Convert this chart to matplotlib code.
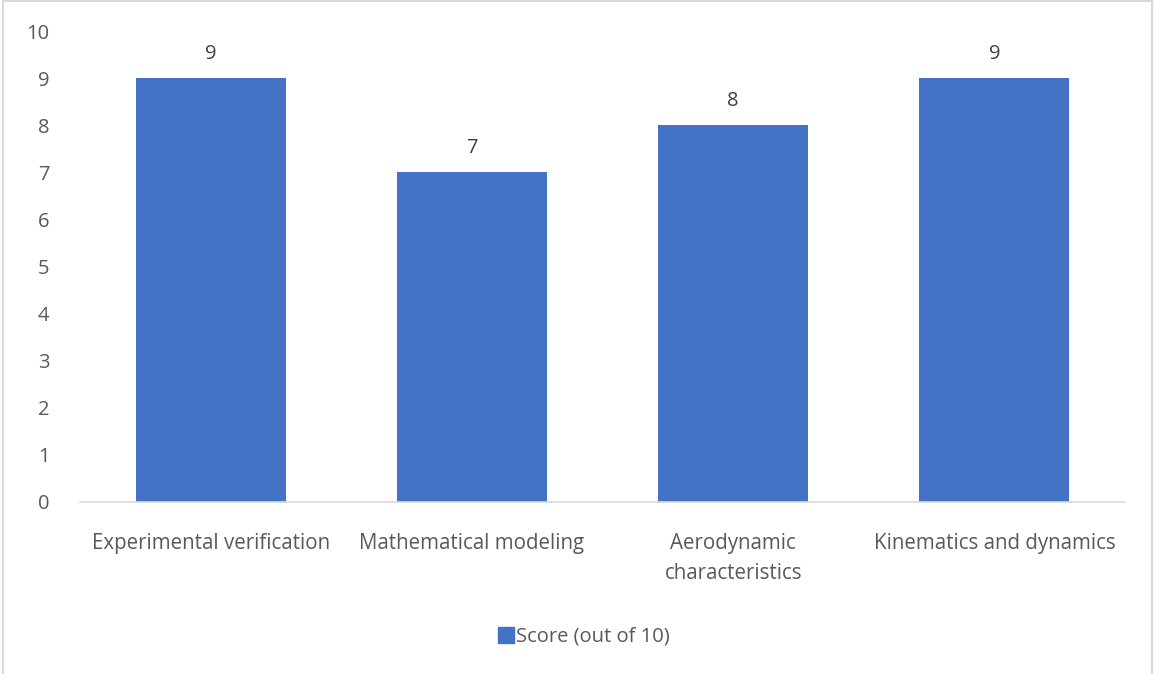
import matplotlib.pyplot as plt
from matplotlib.lines import Line2D

plt.rcParams['font.family'] = ['Open Sans', 'DejaVu Sans']

categories = ['Experimental verification', 'Mathematical modeling',
              'Aerodynamic\ncharacteristics', 'Kinematics and dynamics']
scores = [9, 7, 8, 9]
series_name = 'Score (out of 10)'

bar_color = '#4472C4'
text_color = '#595959'

fig = plt.figure(figsize=(11.54, 6.74), dpi=100)
ax = fig.add_axes([0.0693, 0.2552, 0.9056, 0.6988])

x = range(len(categories))
bars = ax.bar(x, scores, width=0.574, color=bar_color, zorder=2)
for b, v in zip(bars, scores):
    ax.text(b.get_x() + b.get_width() / 2, v + 0.3, str(v),
            ha='center', va='bottom', fontsize=14.5, color='#404040')

ax.set_xlim(-0.5, len(categories) - 0.5)
ax.set_ylim(0, 10)
ax.set_yticks(range(0, 11))
ax.set_xticks(list(x))
ax.set_xticklabels(categories, fontsize=14.8, color=text_color, linespacing=1.6)
ax.tick_params(axis='y', labelsize=14.5, labelcolor=text_color, length=0, pad=22)
ax.tick_params(axis='x', length=0, pad=22)

for side in ['top', 'right', 'left']:
    ax.spines[side].set_visible(False)
ax.spines['bottom'].set_color('#D9D9D9')
ax.spines['bottom'].set_linewidth(1.2)

handle = Line2D([], [], marker='s', linestyle='none', markersize=11,
                markerfacecolor=bar_color, markeredgecolor=bar_color)
fig.legend([handle], [series_name], loc='center', bbox_to_anchor=(0.505, 0.055),
           frameon=False, fontsize=14.5, labelcolor=text_color,
           handletextpad=0.0, handlelength=1.0)

# thin frame round the chart area
fig.add_artist(Line2D([0.003, 0.003], [0, 0.998], color='#D9D9D9', lw=1.5))
fig.add_artist(Line2D([0.003, 0.998], [0.998, 0.998], color='#D9D9D9', lw=1.5))
fig.add_artist(Line2D([0.998, 0.998], [0, 0.998], color='#D9D9D9', lw=1.5))

fig.savefig('out.png', dpi=100)
